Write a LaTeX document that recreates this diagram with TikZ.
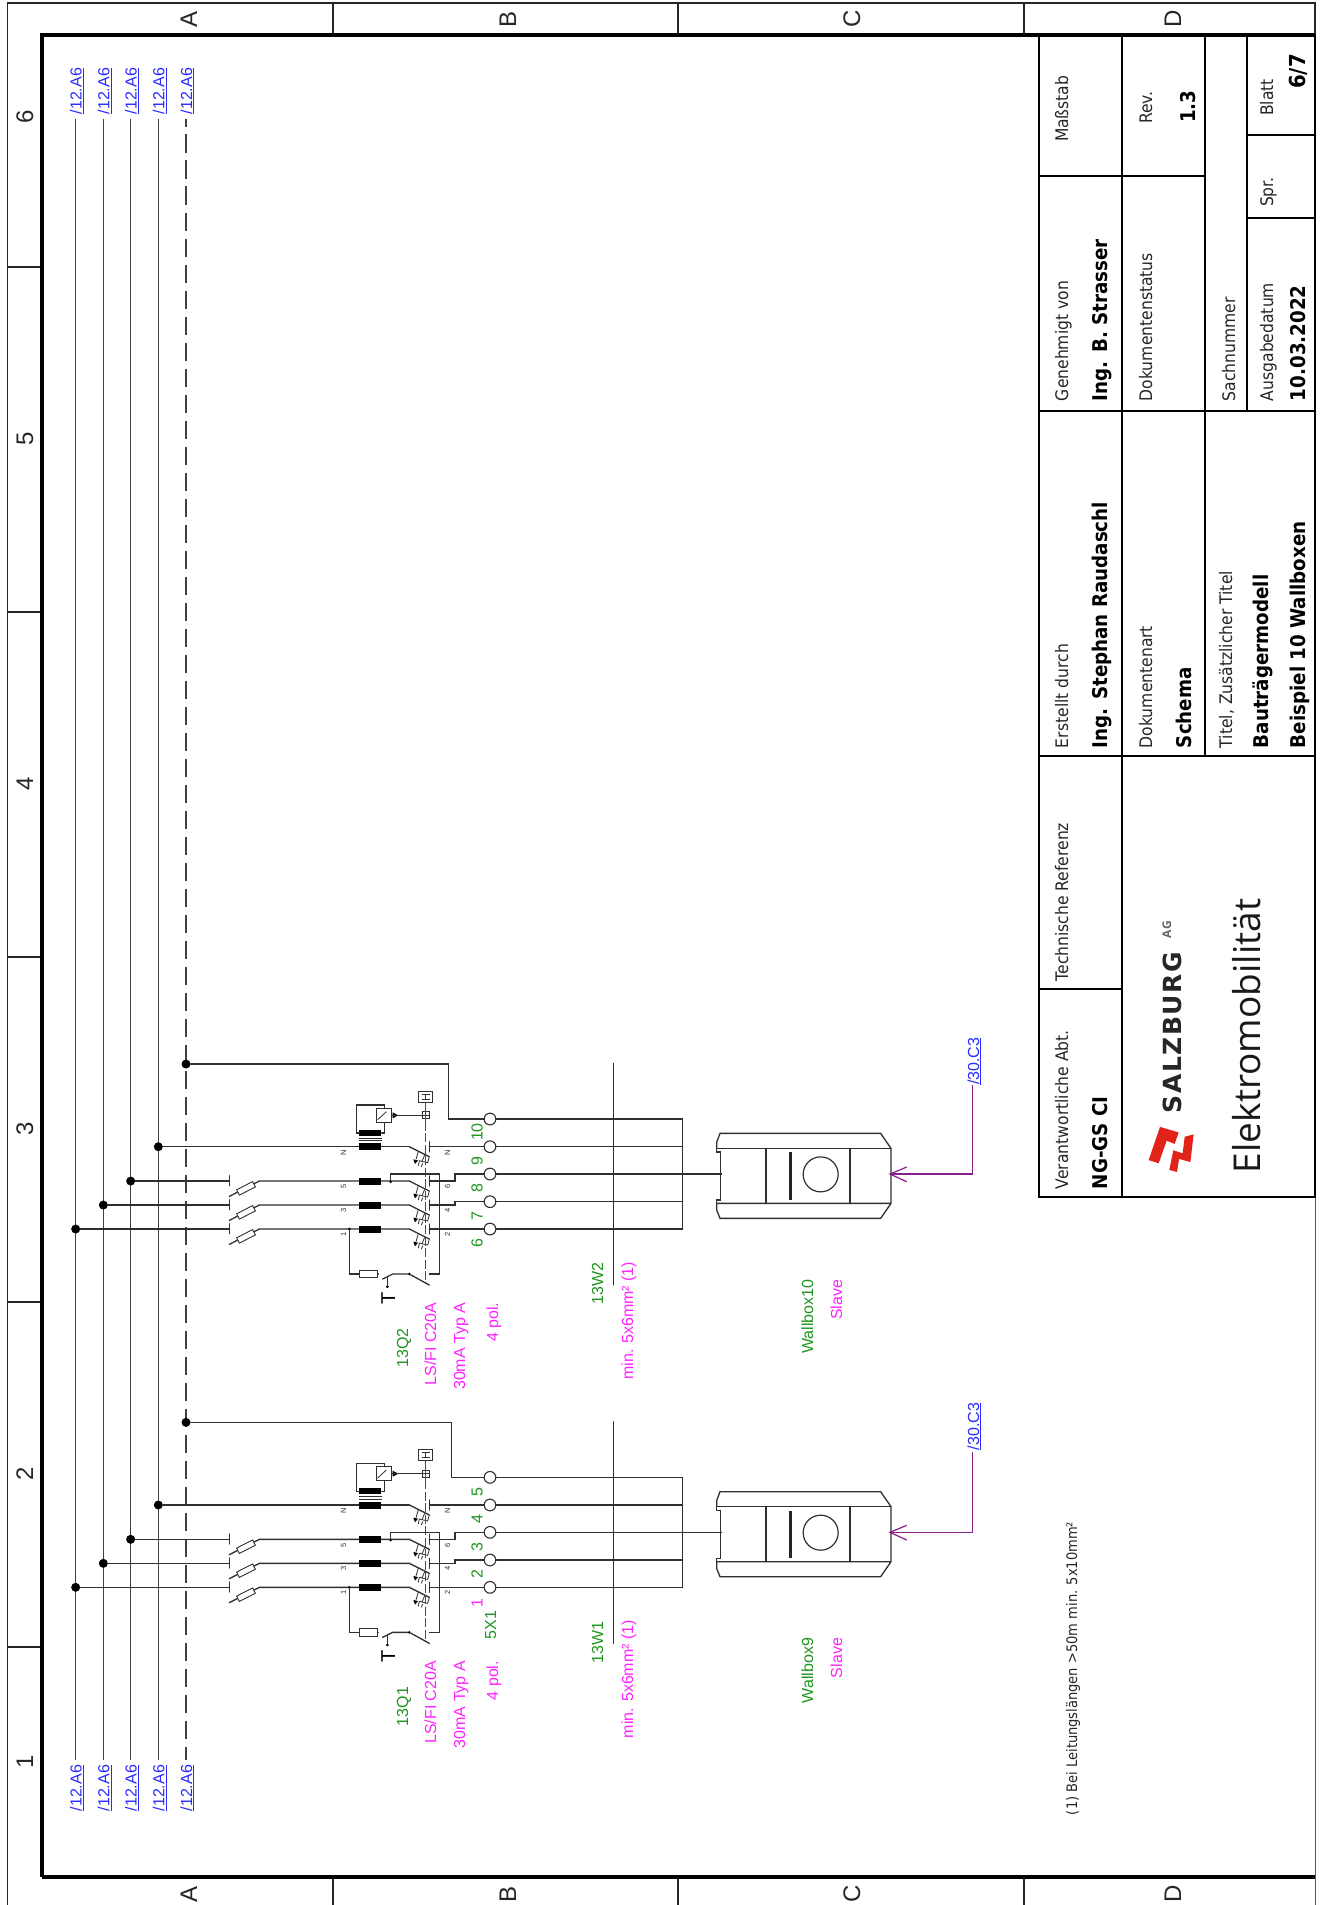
\documentclass[tikz,border=0pt]{standalone}
\usepackage{fontspec}
\setmainfont{Liberation Sans}
\newfontfamily\tbfont{DejaVu Sans Condensed}
\newfontfamily\opfont{Open Sans}
\newfontfamily\logofont[LetterSpace=6]{DejaVu Sans}
\definecolor{wgreen}{HTML}{1E961E}
\definecolor{wmag}{HTML}{FF22FF}
\definecolor{wblue}{HTML}{2A2AFF}
\definecolor{wpurple}{HTML}{8A1E8A}
\definecolor{wire}{HTML}{303030}
\definecolor{logored}{HTML}{E2231A}
\tikzset{
  lab/.style={inner sep=0pt,outer sep=0pt,rotate=90,anchor=base west,font=\fontsize{16}{16}\selectfont},
  labe/.style={lab,anchor=base east},
  labc/.style={lab,anchor=base},
  big/.style={lab,anchor=base,font=\fontsize{24}{24}\selectfont,text=black!85},
  pin/.style={lab,anchor=base,font=\fontsize{7.5}{7.5}\selectfont,text=black!80},
  tbl/.style={lab,font=\tbfont\fontsize{17.3}{17.3}\selectfont,text=black!85},
  tbb/.style={lab,font=\tbfont\bfseries\fontsize{20.3}{20.3}\selectfont},
  frm/.style={line width=1.4pt,draw=black!85},
  grid/.style={line width=2pt,draw=black},
  wr/.style={line width=1.3pt,draw=wire,line cap=round},
  bus/.style={line width=1.2pt,draw=black!75},
  thin/.style={line width=0.8pt,draw=wire},
  term/.style={circle,draw=wire,line width=1.1pt,fill=white,minimum size=11.7pt,inner sep=0pt},
  coil/.style={fill=black,minimum width=22.3pt,minimum height=7pt,inner sep=0pt},
  fuse/.style={draw=wire,line width=0.9pt,fill=white,minimum width=18pt,minimum height=6pt,inner sep=0pt,rotate=27},
  dotn/.style={circle,fill=black,minimum size=9pt,inner sep=0pt},
  smalld/.style={circle,fill=black,minimum size=3pt,inner sep=0pt},
}
% one pole of the breaker, in crop coordinates
\newcommand{\poleSym}[2]{%
  \coordinate (#1a) at (628,#2);
  \coordinate (#1b) at (688,#2+30);
  \draw[wr] (#1a) -- (#1b);
  \draw[thin] (655,#2+14) -- (648,#2+38);
  \fill[black] (640,#2+38) -- (654,#2+41) -- (645,#2+52) -- cycle;
  \draw[thin] (674,#2+25) -- (666,#2+44) -- (658,#2+42) -- (655,#2+57);
  \draw[thin] (666,#2+44) -- (683,#2+48) -- (688,#2+30);
  \draw[thin] (668,#2+50) -- (664,#2+60);
  \draw[wr] (688,#2-15) -- (688,#2+15);
}
\newcommand{\feeder}[8]{% prefix, yshift, PE corner, arrow top(z2), ref bottom y, Q, W, box
\begin{scope}[yshift=#2pt]
\begin{scope}[shift={(200,1380)},x=0.33333pt,y=-0.33333pt]
  % bus taps
  \node[dotn] (#1d1) at (-373,622) {};
  \node[dotn] (#1d2) at (-290,550) {};
  \node[dotn] (#1d3) at (-208,478) {};
  \node[dotn] (#1d4) at (-125,375) {};
  \node[dotn] (#1d5) at (-42,127) {};
  % coordinates
  \coordinate (#1c1) at (88,622); \coordinate (#1c2) at (88,550); \coordinate (#1c3) at (88,478);
  \draw[wr] (#1d1) -- (#1c1);
  \draw[wr] (#1d2) -- (#1c2);
  \draw[wr] (#1d3) -- (#1c3);
  \foreach \i/\yy in {1/622,2/550,3/478}{
    \draw[wr] (88,\yy-16) -- (88,\yy+14);
    \draw[wr] (88,\yy+46) -- (178,\yy) -- (628,\yy);
    \node[fuse] (#1fu\i) at (138,\yy+22) {};
  }
  \draw[wr] (#1d4) -- (628,375);
  \foreach \i/\yy in {1/622,2/550,3/478,4/375}{
    \node[coil] (#1co\i) at (511,\yy) {};
    \poleSym{#1p\i}{\yy}
  }
  % wires first, then the terminals over them
  \coordinate (#1e1) at (1448,622);
  \coordinate (#1e2) at (1448,540);
  \coordinate (#1e3) at (1565,457);
  \coordinate (#1e4) at (1448,375);
  \coordinate (#1e5) at (1448,292);
  \node[term] (#1t1) at (870,622) {};
  \node[term] (#1t2) at (870,540) {};
  \node[term] (#1t3) at (870,457) {};
  \node[term] (#1t4) at (870,375) {};
  \node[term] (#1t5) at (870,292) {};
  \draw[wr] (688,622) -- (#1t1);
  \draw[wr] (688,550) -- (765,550) -- (765,540) -- (#1t2);
  \draw[wr] (688,478) -- (765,478) -- (765,457) -- (#1t3);
  \draw[wr] (688,375) -- (#1t4);
  \draw[wr] (#1d5) -- (#3,127) -- (#3,292) -- (#1t5);
  \draw[wr] (#1t1) -- (#1e1);
  \draw[wr] (#1t2) -- (#1e2);
  \draw[wr] (#1t3) -- (#1e3);
  \draw[wr] (#1t4) -- (#1e4);
  \draw[wr] (#1t5) -- (#1e5) -- (#1e1);
  % cable
  \draw[wr] (1241,125) -- (1241,790);
  % residual current sensor
  \node[coil,minimum height=6pt] (#1co5) at (511,334) {};
  \draw[thin] (478,350) -- (545,350);
  \draw[thin] (478,357) -- (545,357);
  \draw[wr] (478,334) -- (470,334) -- (470,250) -- (553,250) -- (553,260);
  \draw[wr] (545,334) -- (553,334) -- (553,303);
  \node[draw=wire,line width=1pt,fill=white,minimum size=14.3pt,inner sep=0pt] (#1rel) at (552,281) {};
  \draw[thin] (#1rel.south west)++(4,-10) -- ++(26,-24);
  \fill[black] (578,272) -- (595,281) -- (578,290) -- cycle;
  \draw[wr] (575,281) -- (666,281);
  \node[draw=wire,line width=0.8pt,minimum size=7pt,inner sep=0pt] (#1hs) at (677,281) {};
  \draw[thin] (666,281) -- (688,281);
  % mechanical link
  \draw[line width=0.7pt,draw=black!70] (677,243) -- (677,300);
  \draw[line width=0.7pt,draw=black!70,dash pattern=on 9pt off 2.5pt] (677,300) -- (677,786);
  % H button
  \node[draw=wire,line width=1pt,minimum width=14pt,minimum height=11pt,inner sep=0pt] (#1hb) at (677,225) {};
  \draw[thin] (667,218) -- (689,218); \draw[thin] (667,232) -- (689,232); \draw[thin] (677,218) -- (677,232);
  % test circuit
  \node[smalld] (#1td1) at (448,622) {};
  \node[smalld] (#1td2) at (572,480) {};
  \node[smalld] (#1td3) at (628,757) {};
  \node[smalld] (#1td4) at (562,795) {};
  \node[draw=wire,line width=1pt,fill=white,minimum width=17.5pt,minimum height=7.3pt,inner sep=0pt] (#1res) at (506,757) {};
  \draw[wr] (#1td1) -- (448,757) -- (#1res);
  \draw[wr] (#1res) -- (535,757);
  \draw[wr] (548,772) -- (578,757) -- (#1td3);
  \draw[wr] (#1td3) -- (688,790);
  \draw[wr] (562,765) -- (#1td4);
  \draw[wr] (688,757) -- (718,757) -- (718,457) -- (572,457) -- (#1td2);
  \node[lab,anchor=base,font=\fontsize{20}{20}\selectfont] (#1T) at (585,830) {T};
  % pin labels
  \node[pin] (#1pa) at (438,392) {N};
  \node[pin] (#1pb) at (438,495) {5};
  \node[pin] (#1pc) at (438,565) {3};
  \node[pin] (#1pd) at (438,638) {1};
  \node[pin] (#1pe) at (750,392) {N};
  \node[pin] (#1pf) at (750,495) {6};
  \node[pin] (#1pg) at (750,565) {4};
  \node[pin] (#1ph) at (750,638) {2};
\end{scope}
% wallbox
\begin{scope}[shift={(540,1380)},x=0.33333pt,y=-0.33333pt]
  \draw[wr,line join=miter] (530,380) -- (530,362) -- (540,335) -- (1022,335) -- (1053,380) -- (1053,545) -- (1022,590) -- (540,590) -- (530,565) -- (530,545) -- (1053,545);
  \draw[wr] (530,380) -- (1053,380);
  \draw[wr] (530,380) -- (530,391) -- (541,391) -- (541,535) -- (530,535) -- (530,545);
  \draw[wr] (678,380) -- (678,545);
  \draw[wr] (930,380) -- (930,545);
  \fill[black!85] (747,392) rectangle (756,535);
  \node[circle,draw=wire,line width=1.2pt,minimum size=35pt,inner sep=0pt] (#1lens) at (842,458) {};
  \coordinate (#1ah) at (1050,457);
  \coordinate (#1ac) at (1297,457);
  \coordinate (#1at) at (1297,#4);
  \draw[line width=1.2pt,wpurple] (#1at) -- (#1ac) -- (#1ah);
  \draw[line width=1.2pt,wpurple] (1100,436) -- (#1ah) -- (1100,480);
\end{scope}
\node[lab,text=wblue,anchor=base west] (#1ref) at (979,#5) {\underline{/30.C3}};
\node[lab,text=wgreen] (#1q) at (408,1726) {#6};
\node[lab,text=wmag,anchor=base east] (#1q1) at (436,1661) {LS/FI C20A};
\node[lab,text=wmag,anchor=base east] (#1q2) at (465,1661) {30mA Typ A};
\node[lab,text=wmag,anchor=base east] (#1q3) at (498,1661) {4 pol.};
\node[lab,text=wgreen] (#1w) at (603,1663) {#7};
\node[lab,text=wmag] (#1w1) at (633,1738) {min. 5x6mm² (1)};
\node[labe,text=wgreen] (#1b) at (813,1638) {#8};
\node[labe,text=wmag] (#1s) at (842,1638) {Slave};
\end{scope}
}
\begin{document}
\begin{tikzpicture}[x=1pt,y=-1pt]
\useasboundingbox (0,0) rectangle (1327,1905);
\fill[white] (0,0) rectangle (1327,1905);
% sheet frame
\draw[frm] (7.5,1905) -- (7.5,3) -- (1315,3) -- (1315,35);
\draw[line width=1pt,draw=black!65] (1315,1197) -- (1315,1905);
\foreach \xx in {333,678,1024}{
  \draw[frm] (\xx,3) -- (\xx,35);
  \draw[frm] (\xx,1877) -- (\xx,1905);
}
\foreach \yy in {267,612,957,1302,1647}{
  \draw[frm] (7.5,\yy) -- (41,\yy);
}
\draw[line width=4pt,draw=black,line cap=square] (41.5,1876.5) -- (41.5,35.5) -- (1315,35.5);
\draw[line width=4pt,draw=black] (41.5,1876.5) -- (1315,1876.5);
% zone letters
\node[big] (ta) at (197,19) {A};
\node[big] (tb) at (516,19) {B};
\node[big] (tc) at (860,19) {C};
\node[big] (td) at (1181,19) {D};
\node[big] (ba) at (197,1894) {A};
\node[big] (bb) at (516,1894) {B};
\node[big] (bc) at (860,1894) {C};
\node[big] (bd) at (1181,1894) {D};
\node[big] (n6) at (33,117) {6};
\node[big] (n5) at (33,439) {5};
\node[big] (n4) at (33,784) {4};
\node[big] (n3) at (33,1129) {3};
\node[big] (n2) at (33,1474) {2};
\node[big] (n1) at (33,1762) {1};
% busbars
\foreach \i/\xx in {1/75.7,2/103.3,3/130.7,4/158.3}{
  \node[lab,text=wblue,anchor=base east] (rt\i) at (\xx+6,68) {\underline{/12.A6}};
  \node[lab,text=wblue,anchor=base east] (rb\i) at (\xx+6,1765) {\underline{/12.A6}};
  \coordinate (bt\i) at (\xx,119);
  \coordinate (bb\i) at (\xx,1760);
  \draw[bus] (bt\i) -- (bb\i);
}
\node[lab,text=wblue,anchor=base east] (rt5) at (192,68) {\underline{/12.A6}};
\node[lab,text=wblue,anchor=base east] (rb5) at (192,1765) {\underline{/12.A6}};
\coordinate (bt5) at (186,119);
\coordinate (bb5) at (186,1760);
\draw[bus,dash pattern=on 18.5pt off 7.5pt,dash phase=10.5pt] (bt5) -- (bb5);
% feeders
\feeder{A}{0}{755}{215}{1450}{13Q1}{13W1}{Wallbox9}
\feeder{B}{358.3}{745}{190}{1443}{13Q2}{13W2}{Wallbox10}
% terminal numbers
\node[labc,text=wmag] (k1) at (482.7,1603) {1};
\node[labc,text=wgreen] (k2) at (482.7,1574) {2};
\node[labc,text=wgreen] (k3) at (482.7,1547) {3};
\node[labc,text=wgreen] (k4) at (482.7,1519) {4};
\node[labc,text=wgreen] (k5) at (482.7,1492) {5};
\node[lab,text=wgreen] (kx) at (496,1639) {5X1};
\node[labc,text=wgreen] (k6) at (482.7,1243) {6};
\node[labc,text=wgreen] (k7) at (482.7,1216) {7};
\node[labc,text=wgreen] (k8) at (482.7,1188) {8};
\node[labc,text=wgreen] (k9) at (482.7,1161) {9};
\node[labc,text=wgreen] (k10) at (482.7,1132) {10};
% footnote
\node[lab,font=\tbfont\fontsize{14.5}{14.5}\selectfont,text=black!85] (note) at (1077,1815) {(1) Bei Leitungslängen >50m min. 5x10mm²};
% title block
\draw[grid] (1039,35) -- (1039,1197) -- (1315,1197) -- (1315,35);
\draw[grid] (1122,35) -- (1122,1197);
\draw[grid] (1205,35) -- (1205,756);
\draw[grid] (1247,35) -- (1247,411);
\draw[grid] (1039,176) -- (1205,176);
\draw[grid] (1039,411) -- (1315,411);
\draw[grid] (1039,756) -- (1315,756);
\draw[grid] (1039,989) -- (1122,989);
\draw[grid] (1247,135) -- (1315,135);
\draw[grid] (1247,218) -- (1315,218);
\node[tbl] (t1) at (1068,142) {Maßstab};
\node[tbl] (t2) at (1152,124) {Rev.};
\node[tbb] (t3) at (1195,123) {1.3};
\node[tbl] (t4) at (1273,116) {Blatt};
\node[tbb,font=\tbfont\bfseries\fontsize{22}{22}\selectfont] (t5) at (1305,89) {6/7};
\node[tbl] (t6) at (1273,207) {Spr.};
\node[tbl] (t7) at (1068,401) {Genehmigt von};
\node[tbb] (t8) at (1107,401) {Ing. B. Strasser};
\node[tbl] (t9) at (1152,401) {Dokumentenstatus};
\node[tbl] (t10) at (1235,401) {Sachnummer};
\node[tbl] (t11) at (1273,401) {Ausgabedatum};
\node[tbb] (t12) at (1305,401) {10.03.2022};
\node[tbl] (t13) at (1068,748) {Erstellt durch};
\node[tbb] (t14) at (1107,748) {Ing. Stephan Raudaschl};
\node[tbl] (t15) at (1152,748) {Dokumentenart};
\node[tbb] (t16) at (1191,748) {Schema};
\node[tbl] (t17) at (1232,748) {Titel, Zusätzlicher Titel};
\node[tbb] (t18) at (1268,748) {Bauträgermodell};
\node[tbb] (t19) at (1305,748) {Beispiel 10 Wallboxen};
\node[tbl] (t20) at (1068,1189) {Verantwortliche Abt.};
\node[tbb] (t21) at (1107,1189) {NG-GS CI};
\node[tbl] (t22) at (1068,981) {Technische Referenz};
% logo
\begin{scope}[shift={(1030,600)},x=0.33333pt,y=-0.39526pt]
  \fill[logored] (356,1417) -- (390,1333) -- (446,1347) -- (434,1376) -- (410,1368) -- (386,1425) -- cycle;
  \fill[logored] (418,1442) -- (430,1392) -- (458,1400) -- (464,1358) -- (491,1352) -- (481,1422) -- (447,1414) -- (441,1447) -- cycle;
\end{scope}
\node[lab,font=\logofont\bfseries\fontsize{25}{25}\selectfont,text=black!85] (t23) at (1181,1113) {SALZBURG};
\node[lab,font=\opfont\bfseries\fontsize{12}{12}\selectfont,text=black!60] (t24) at (1171,938) {AG};
\node[lab,font=\opfont\fontsize{37}{37}\selectfont,text=black!90] (t25) at (1260,1173) {Elektromobilität};
\end{tikzpicture}
\end{document}
